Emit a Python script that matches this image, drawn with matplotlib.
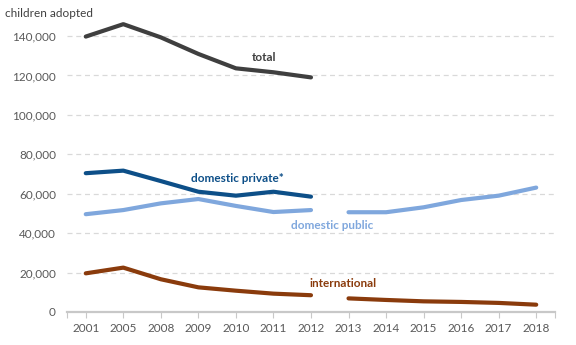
import numpy as np
import matplotlib
matplotlib.use("Agg")
import matplotlib.pyplot as plt
from matplotlib.ticker import FuncFormatter

plt.rcParams['font.family'] = ['Lato', 'DejaVu Sans']

years = ["2001", "2005", "2008", "2009", "2010", "2011", "2012",
         "2013", "2014", "2015", "2016", "2017", "2018"]

nan = np.nan
total = [139700, 146000, 139300, 130900, 123600, 121600, 119000,
         nan, nan, nan, nan, nan, nan]
domestic_private = [70400, 71700, 66400, 61000, 59000, 61000, 58500,
                    nan, nan, nan, nan, nan, nan]
domestic_public = [49600, 51700, 55100, 57300, 53800, 50700, 51700,
                   50600, 50600, 53100, 56800, 59000, 63100]
international = [19600, 22500, 16600, 12500, 10800, 9300, 8500,
                 6900, 6100, 5400, 5100, 4600, 3700]

# the series break between 2012 and 2013
split = 7

c_total = "#3f3f3f"
c_private = "#0d4f88"
c_public = "#7fa7dd"
c_intl = "#8a3b0c"

fig = plt.figure(figsize=(5.76, 3.45), dpi=100)
ax = fig.add_axes([0.1163, 0.0957, 0.8472, 0.8571])

x = np.arange(len(years))
lw = 3.0
for vals, col in [(total, c_total), (domestic_private, c_private),
                  (domestic_public, c_public), (international, c_intl)]:
    v = np.array(vals, dtype=float)
    ax.plot(x[:split], v[:split], color=col, lw=lw, solid_capstyle='round',
            solid_joinstyle='round', zorder=3)
    ax.plot(x[split:], v[split:], color=col, lw=lw, solid_capstyle='round',
            solid_joinstyle='round', zorder=3)

ax.set_xlim(-0.5, len(years) - 0.5)
ax.set_ylim(0, 150000)
ax.set_yticks(np.arange(0, 140001, 20000))
ax.yaxis.set_major_formatter(FuncFormatter(lambda v, p: f"{int(v):,}"))
ax.set_xticks(x)
ax.set_xticklabels(years)
ax.set_xticks([-0.5, len(years) - 0.5], minor=True)

for s in ['top', 'right', 'left']:
    ax.spines[s].set_visible(False)
ax.spines['bottom'].set_color("#c8c8c8")
ax.spines['bottom'].set_linewidth(1.6)

ax.grid(axis='y', color="#d9d9d9", linestyle=(0, (4, 3)), linewidth=0.9)
ax.set_axisbelow(True)

ax.tick_params(axis='y', length=0, pad=8, labelsize=8.5, labelcolor="#595959")
ax.tick_params(axis='x', which='both', length=4, width=0.8, color="#c8c8c8",
               pad=4, labelsize=8.5, labelcolor="#595959")

fig.text(0.009, 0.962, "children adopted", ha='left', va='center',
         fontsize=8.5, color="#404040")

lab = dict(fontsize=8.5, fontweight='bold', ha='center', va='center')
ax.text(4.75, 129000, "total", color=c_total, **lab)
ax.text(4.05, 67500, "domestic private*", color=c_private, **lab)
ax.text(6.55, 44000, "domestic public", color=c_public, **lab)
ax.text(6.85, 14200, "international", color=c_intl, **lab)

fig.savefig("out.png", dpi=100)
